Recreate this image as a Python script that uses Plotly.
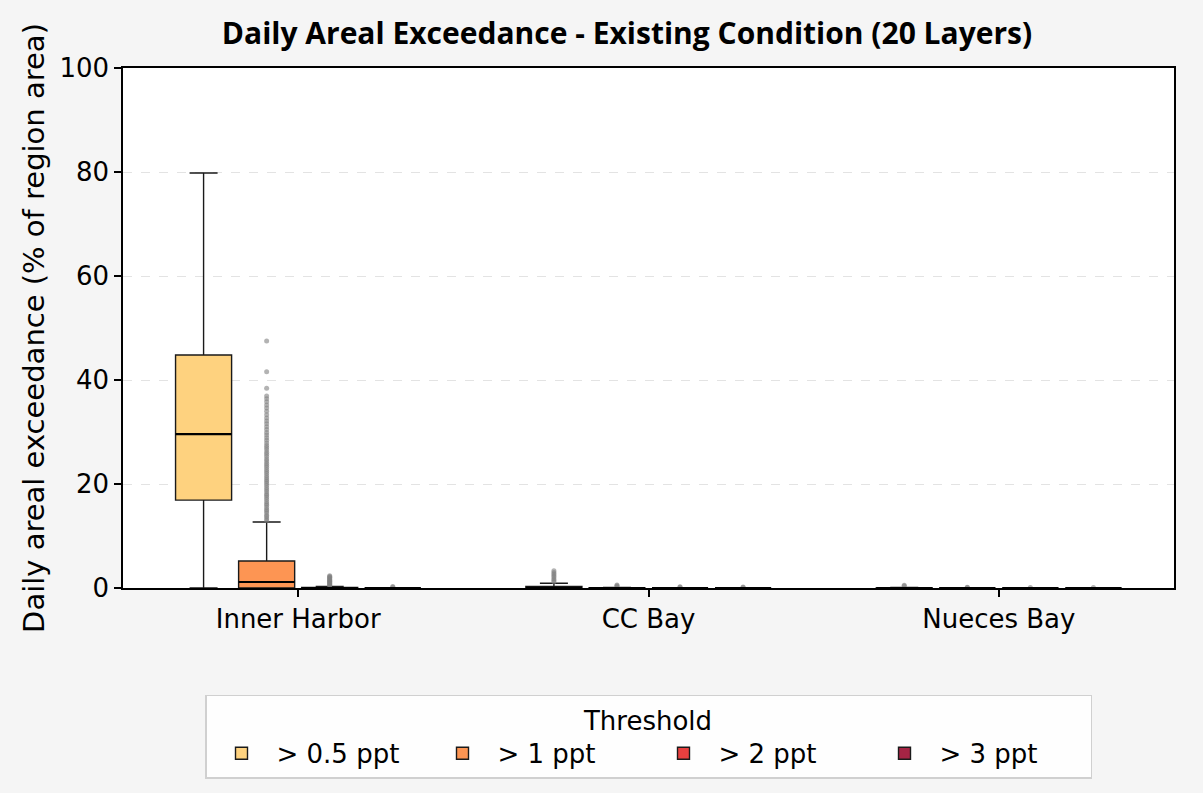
import plotly.graph_objects as go

# Regions and thresholds
regions = ["Inner Harbor", "CC Bay", "Nueces Bay"]
thresholds = ["> 0.5 ppt", "> 1 ppt", "> 2 ppt", "> 3 ppt"]
colors = ["#fed27f", "#fd9553", "#e8403f", "#a52444"]

# Box statistics per threshold, one value per region
lower_fence = [
    [0.0, 0.0, 0.0],
    [0.0, 0.0, 0.0],
    [0.0, 0.0, 0.0],
    [0.0, 0.0, 0.0],
]
q1 = [
    [16.9, 0.0, 0.0],
    [0.0, 0.0, 0.0],
    [0.0, 0.0, 0.0],
    [0.0, 0.0, 0.0],
]
median = [
    [29.6, 0.05, 0.0],
    [1.15, 0.0, 0.0],
    [0.0, 0.0, 0.0],
    [0.0, 0.0, 0.0],
]
q3 = [
    [44.8, 0.3, 0.02],
    [5.2, 0.02, 0.0],
    [0.1, 0.0, 0.0],
    [0.0, 0.0, 0.0],
]
upper_fence = [
    [79.8, 0.9, 0.1],
    [12.7, 0.1, 0.02],
    [0.3, 0.05, 0.02],
    [0.05, 0.02, 0.02],
]

# Outliers: [threshold][region] -> list of values
outliers = [
    [
        [],
        [1.2, 1.5, 1.8, 2.1, 2.4, 2.7, 3.0, 3.3],
        [0.4, 0.55],
    ],
    [
        [13.0, 13.3, 13.7, 14.0, 14.4, 14.8, 15.1, 15.5, 15.9, 16.2, 16.6, 17.0,
         17.4, 17.8, 18.1, 18.5, 18.9, 19.3, 19.7, 20.1, 20.5, 20.8, 21.2, 21.6,
         22.0, 22.4, 22.8, 23.2, 23.6, 24.0, 24.4, 24.8, 25.3, 25.7, 26.1, 26.6,
         27.0, 27.4, 27.9, 28.4, 28.9, 29.4, 29.9, 30.5, 31.0, 31.6, 32.1, 32.7,
         33.3, 34.0, 34.6, 35.2, 35.8, 36.4, 36.9, 38.4, 41.6, 47.5],
        [0.3, 0.45, 0.6],
        [0.1, 0.15],
    ],
    [
        [0.4, 0.55, 0.7, 0.85, 1.0, 1.15, 1.3, 1.45, 1.6, 1.75, 1.9, 2.05, 2.2, 2.35],
        [0.15, 0.25],
        [0.1],
    ],
    [
        [0.15, 0.3],
        [0.1, 0.2],
        [0.1],
    ],
]

n_thr = len(thresholds)
slot = 0.18       # distance between neighbouring boxes in a region
box_w = 0.16      # box width in axis units
region_x = list(range(len(regions)))

fig = go.Figure()

for i, name in enumerate(thresholds):
    offset = (i - (n_thr - 1) / 2) * slot
    xs = [rx + offset for rx in region_x]
    fig.add_trace(go.Box(
        name=name,
        x=xs,
        q1=q1[i],
        median=median[i],
        q3=q3[i],
        lowerfence=lower_fence[i],
        upperfence=upper_fence[i],
        width=box_w,
        whiskerwidth=0.5,
        fillcolor=colors[i],
        line=dict(color="#1a1a1a", width=1.4),
        boxpoints=False,
        hoverinfo="skip",
    ))

# Outlier points
for i in range(n_thr):
    offset = (i - (n_thr - 1) / 2) * slot
    ox, oy = [], []
    for r, rx in enumerate(region_x):
        for v in outliers[i][r]:
            ox.append(rx + offset)
            oy.append(v)
    fig.add_trace(go.Scatter(
        x=ox, y=oy, mode="markers",
        marker=dict(color="rgba(128,128,128,0.6)", size=5),
        showlegend=False, hoverinfo="skip",
    ))

# Heavier median lines
mx, my = [], []
for i in range(n_thr):
    offset = (i - (n_thr - 1) / 2) * slot
    for r, rx in enumerate(region_x):
        c = rx + offset
        mx += [c - box_w / 2, c + box_w / 2, None]
        my += [median[i][r], median[i][r], None]
fig.add_trace(go.Scatter(
    x=mx, y=my, mode="lines",
    line=dict(color="black", width=2.2),
    showlegend=False, hoverinfo="skip",
))

body_font = "DejaVu Sans, sans-serif"
title_font = "Open Sans, Noto Sans, sans-serif"

fig.update_layout(
    width=1203, height=793,
    paper_bgcolor="#f5f5f5",
    plot_bgcolor="white",
    margin=dict(l=123, r=29, t=68, b=205),
    font=dict(family=body_font, size=26, color="black"),
    boxmode="overlay",
    title=dict(
        text="<b>Daily Areal Exceedance - Existing Condition (20 Layers)</b>",
        x=627 / 1203, xanchor="center",
        y=1 - 33 / 793, yanchor="middle",
        font=dict(size=30, family=title_font, color="black"),
    ),
    xaxis=dict(
        range=[-0.5, 2.5],
        tickmode="array",
        tickvals=region_x,
        ticktext=regions,
        ticks="outside", ticklen=7, tickcolor="black", tickwidth=1.5,
        showline=True, linecolor="black", linewidth=1.5, mirror=True,
        showgrid=False, zeroline=False,
        tickfont=dict(size=26),
    ),
    yaxis=dict(
        range=[0, 100],
        tickvals=[0, 20, 40, 60, 80, 100],
        ticks="outside", ticklen=7, tickcolor="black", tickwidth=1.5,
        showline=True, linecolor="black", linewidth=1.5, mirror=True,
        showgrid=True, gridcolor="#e3e3e3", griddash="dash", gridwidth=1,
        zeroline=False,
        tickfont=dict(size=26),
        title=dict(text="Daily areal exceedance (% of region area)",
                   font=dict(size=29), standoff=6),
    ),
    legend=dict(
        orientation="h",
        x=0.5, xanchor="center",
        y=-0.205, yanchor="top",
        bgcolor="rgba(255,255,255,0.9)",
        bordercolor="#d0d0d0", borderwidth=1.5,
        title=dict(text="Threshold", side="top center", font=dict(size=26)),
        font=dict(size=26),
        itemwidth=60,
        entrywidth=146, entrywidthmode="pixels",
    ),
)

fig.write_html("out.html")
